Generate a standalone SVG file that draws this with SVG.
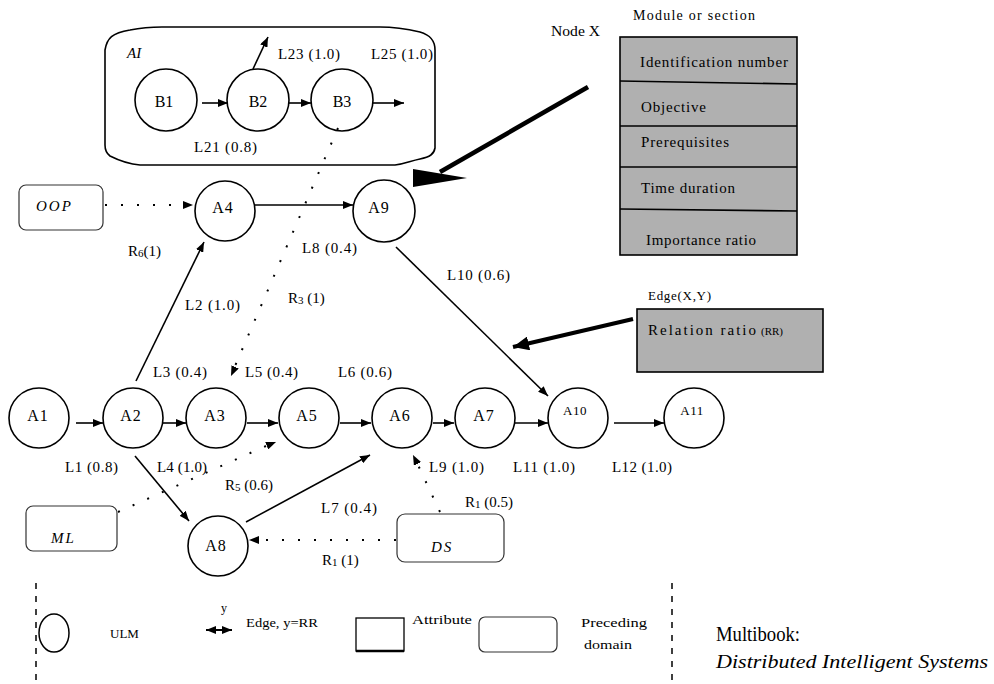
<svg xmlns="http://www.w3.org/2000/svg" width="994" height="684" viewBox="0 0 994 684">
<defs>
<style>
text{font-family:"Liberation Serif","Times New Roman",serif;fill:#000}
.lbl{font-size:15px}
.nt{font-size:16px;text-anchor:middle}
.ns{font-size:13px;text-anchor:middle}
.it{font-style:italic}
circle.n{fill:#fff;stroke:#000;stroke-width:1.6}
.ln{stroke:#000;stroke-width:1.6;fill:none}
.dot{stroke:#000;stroke-width:2;fill:none;stroke-dasharray:2 14}
.pd{fill:#fff;stroke:#333;stroke-width:1.2}
.gbox{fill:#b0b0b0;stroke:#000;stroke-width:1.6}
.sep{stroke:#000;stroke-width:1.6}
</style>
<marker id="ah" viewBox="0 0 10 8" refX="10" refY="4" markerWidth="10" markerHeight="8" markerUnits="userSpaceOnUse" orient="auto"><path d="M0,0 L10,4 L0,8 z" fill="#000"/></marker>
<marker id="ahb" viewBox="0 0 16 14" refX="16" refY="7" markerWidth="16" markerHeight="14" markerUnits="userSpaceOnUse" orient="auto"><path d="M0,0 L16,7 L0,14 z" fill="#000"/></marker>
<marker id="ahl" viewBox="0 0 10 8" refX="0" refY="4" markerWidth="10" markerHeight="8" markerUnits="userSpaceOnUse" orient="auto"><path d="M10,0 L0,4 L10,8 z" fill="#000"/></marker>
</defs>
<rect width="994" height="684" fill="#fff"/>

<!-- AI domain -->
<g id="AI">
<path class="ln" d="M105,50 C107,38 112,33 130,30 C140,28 150,27 162,27 L380,27 C395,27 407,29 420,32 C430,35 435,40 435,50 L435,148 C434,154 430,157 420,159 C410,161 405,164 395,165 L140,165 C128,164 118,160 110,156 C106,153 105,150 105,145 Z" stroke-width="1.8"/>
<text class="lbl it" x="127" y="58">AI</text>
</g>
<g id="B1"><circle class="n" cx="166" cy="100" r="31"/><text class="nt" x="164" y="107">B1</text></g>
<g id="B2"><circle class="n" cx="258" cy="100" r="31"/><text class="nt" x="258" y="107">B2</text></g>
<g id="B3"><circle class="n" cx="342" cy="100" r="31"/><text class="nt" x="342" y="107">B3</text></g>

<!-- ULM nodes -->
<g id="A1"><circle class="n" cx="39" cy="418" r="30"/><text class="nt" x="38" y="421" letter-spacing="1">A1</text></g>
<g id="A2"><circle class="n" cx="133" cy="418" r="30"/><text class="nt" x="131" y="421" letter-spacing="1">A2</text></g>
<g id="A3"><circle class="n" cx="216" cy="418" r="30"/><text class="nt" x="215" y="421" letter-spacing="1">A3</text></g>
<g id="A4"><circle class="n" cx="225" cy="211" r="30"/><text class="nt" x="223" y="213" letter-spacing="1">A4</text></g>
<g id="A5"><circle class="n" cx="309" cy="418" r="30"/><text class="nt" x="307" y="421" letter-spacing="1">A5</text></g>
<g id="A6"><circle class="n" cx="402" cy="418" r="30"/><text class="nt" x="400" y="421" letter-spacing="1">A6</text></g>
<g id="A7"><circle class="n" cx="485" cy="418" r="30"/><text class="nt" x="484" y="421" letter-spacing="1">A7</text></g>
<g id="A8"><circle class="n" cx="218" cy="546" r="30"/><text class="nt" x="216" y="551" letter-spacing="1">A8</text></g>
<g id="A9"><circle class="n" cx="384" cy="211" r="31"/><text class="nt" x="379" y="213" letter-spacing="1">A9</text></g>
<g id="A10"><circle class="n" cx="578" cy="418" r="30"/><text class="ns" x="575" y="415" letter-spacing="0.5">A10</text></g>
<g id="A11"><circle class="n" cx="694" cy="418" r="30"/><text class="ns" x="692" y="415" letter-spacing="0.5">A11</text></g>

<!-- Preceding domains -->
<g id="OOP"><rect class="pd" x="19" y="185" width="84" height="45" rx="7"/><text class="lbl it" x="36" y="211" letter-spacing="2">OOP</text></g>
<g id="ML"><rect class="pd" x="26" y="506" width="91" height="45" rx="7"/><text class="lbl it" x="51" y="543" letter-spacing="2">ML</text></g>
<g id="DS"><rect class="pd" x="397" y="514" width="107" height="48" rx="8"/><text class="lbl it" x="431" y="552" letter-spacing="2">DS</text></g>

<!-- Node X attribute box -->
<g id="NodeX">
<text x="551" y="36" font-size="15" textLength="49" lengthAdjust="spacingAndGlyphs">Node X</text>
<text x="633" y="20" font-size="14" textLength="122" lengthAdjust="spacing">Module or section</text>
<rect class="gbox" x="620" y="37" width="177" height="218"/>
<line class="sep" x1="620" y1="81" x2="797" y2="84"/>
<line class="sep" x1="620" y1="126" x2="797" y2="126"/>
<line class="sep" x1="620" y1="167" x2="797" y2="167"/>
<line class="sep" x1="620" y1="209" x2="797" y2="211"/>
<text class="lbl" x="640" y="67" textLength="148" lengthAdjust="spacing">Identification number</text>
<text class="lbl" x="641" y="112" textLength="65" lengthAdjust="spacing">Objective</text>
<text class="lbl" x="641" y="147" textLength="88" lengthAdjust="spacing">Prerequisites</text>
<text class="lbl" x="641" y="193" textLength="94" lengthAdjust="spacing">Time duration</text>
<text class="lbl" x="646" y="245" textLength="110" lengthAdjust="spacing">Importance ratio</text>
</g>

<!-- Edge attribute box -->
<g id="EdgeXY">
<text x="648" y="300" font-size="13" textLength="63" lengthAdjust="spacing">Edge(X,Y)</text>
<rect class="gbox" x="637" y="309" width="186" height="63" stroke-width="2"/>
<text class="lbl" x="648" y="335"><tspan textLength="108" lengthAdjust="spacing">Relation  ratio</tspan><tspan font-size="11" dx="3">(RR)</tspan></text>
</g>

<!-- Connectors -->
<g id="connectors">
<line class="ln" x1="202" y1="103" x2="228" y2="103" marker-end="url(#ah)"/>
<line class="ln" x1="288" y1="103" x2="311" y2="103" marker-end="url(#ah)"/>
<line class="ln" x1="373" y1="103" x2="404" y2="103" marker-end="url(#ah)"/>
<line class="ln" x1="253" y1="69" x2="268" y2="37" marker-end="url(#ah)"/>

<line class="ln" x1="76" y1="423" x2="103" y2="423" marker-end="url(#ah)"/>
<line class="ln" x1="163" y1="423" x2="186" y2="423" marker-end="url(#ah)"/>
<line class="ln" x1="247" y1="423" x2="278" y2="423" marker-end="url(#ah)"/>
<line class="ln" x1="340" y1="423" x2="371" y2="423" marker-end="url(#ah)"/>
<line class="ln" x1="433" y1="423" x2="454" y2="423" marker-end="url(#ah)"/>
<line class="ln" x1="514" y1="423" x2="548" y2="423" marker-end="url(#ah)"/>
<line class="ln" x1="614" y1="423" x2="664" y2="423" marker-end="url(#ah)"/>

<line class="ln" x1="255" y1="205" x2="353" y2="205" marker-end="url(#ah)"/>
<line class="ln" x1="136" y1="381" x2="204" y2="242" marker-end="url(#ah)"/>
<line class="ln" x1="135" y1="456" x2="189" y2="521" marker-end="url(#ah)"/>
<line class="ln" x1="246" y1="522" x2="370" y2="455" marker-end="url(#ah)"/>
<line class="ln" x1="396" y1="247" x2="548" y2="396" marker-end="url(#ah)"/>

<line class="dot" x1="105" y1="205" x2="183" y2="205"/>
<path d="M183,201 L193,205 L183,209 z"/>
<line class="dot" x1="338" y1="128" x2="235" y2="366"/>
<line class="dot" x1="118" y1="512" x2="266" y2="446"/>
<line class="dot" x1="396" y1="540" x2="259" y2="540"/>
<line class="dot" x1="440" y1="512" x2="418" y2="465"/>
<line x1="236" y1="365" x2="231" y2="376" stroke="#000" stroke-width="0.1" marker-end="url(#ah)"/>
<line x1="266" y1="446" x2="276" y2="442" stroke="#000" stroke-width="0.1" marker-end="url(#ah)"/>
<line x1="259" y1="540" x2="249" y2="540" stroke="#000" stroke-width="0.1" marker-end="url(#ah)"/>
<line x1="418" y1="465" x2="413" y2="455" stroke="#000" stroke-width="0.1" marker-end="url(#ah)"/>

<line x1="588" y1="87" x2="440" y2="172" stroke="#000" stroke-width="4.5"/>
<polygon points="413,169 413,187 467,178" fill="#000"/>
<line x1="633" y1="319" x2="513" y2="347" stroke="#000" stroke-width="4" marker-end="url(#ahb)"/>
</g>

<!-- Edge labels -->
<g id="labels" class="lbl">
<text x="278" y="59" textLength="62" lengthAdjust="spacing">L23 (1.0)</text>
<text x="371" y="59" textLength="62" lengthAdjust="spacing">L25 (1.0)</text>
<text x="194" y="152" textLength="63" lengthAdjust="spacing">L21 (0.8)</text>
<text x="128" y="256">R<tspan font-size="11" dy="1">6</tspan><tspan dy="-1">(1)</tspan></text>
<text x="302" y="253" textLength="55" lengthAdjust="spacing">L8 (0.4)</text>
<text x="185" y="310" textLength="55" lengthAdjust="spacing">L2 (1.0)</text>
<text x="288" y="303">R<tspan font-size="11" dy="1">3</tspan><tspan dy="-1"> (1)</tspan></text>
<text x="447" y="280" textLength="63" lengthAdjust="spacing">L10 (0.6)</text>
<text x="153" y="377" textLength="54" lengthAdjust="spacing">L3 (0.4)</text>
<text x="245" y="377" textLength="53" lengthAdjust="spacing">L5 (0.4)</text>
<text x="338" y="377" textLength="54" lengthAdjust="spacing">L6 (0.6)</text>
<text x="65" y="472" textLength="53" lengthAdjust="spacing">L1 (0.8)</text>
<text x="157" y="472" textLength="50" lengthAdjust="spacing">L4 (1.0)</text>
<text x="225" y="490">R<tspan font-size="11" dy="1">5</tspan><tspan dy="-1"> (0.6)</tspan></text>
<text x="321" y="513" textLength="56" lengthAdjust="spacing">L7 (0.4)</text>
<text x="322" y="565">R<tspan font-size="11" dy="1">1</tspan><tspan dy="-1"> (1)</tspan></text>
<text x="429" y="472" textLength="55" lengthAdjust="spacing">L9 (1.0)</text>
<text x="465" y="507">R<tspan font-size="11" dy="1">1</tspan><tspan dy="-1"> (0.5)</tspan></text>
<text x="513" y="472" textLength="62" lengthAdjust="spacing">L11 (1.0)</text>
<text x="612" y="472" textLength="60" lengthAdjust="spacing">L12 (1.0)</text>
</g>

<!-- Legend -->
<g id="legend">
<line x1="36" y1="583" x2="36" y2="684" stroke="#000" stroke-width="1.5" stroke-dasharray="6 7"/>
<line x1="672" y1="583" x2="672" y2="684" stroke="#000" stroke-width="1.5" stroke-dasharray="6 7"/>
<ellipse cx="54" cy="633" rx="15" ry="19" fill="#fff" stroke="#000" stroke-width="1.5"/>
<text x="110" y="638" font-size="13">ULM</text>
<line x1="206" y1="630" x2="232" y2="630" stroke="#000" stroke-width="2" marker-start="url(#ahl)" marker-end="url(#ah)"/>
<text x="221" y="612" font-size="12">y</text>
<text x="246" y="627" font-size="13" textLength="72" lengthAdjust="spacingAndGlyphs">Edge, y=RR</text>
<rect x="356" y="618" width="48" height="33" fill="#fff" stroke="#000" stroke-width="1.3"/>
<line x1="356" y1="651" x2="404" y2="651" stroke="#000" stroke-width="2.5"/>
<text x="412" y="624" font-size="13" textLength="60" lengthAdjust="spacingAndGlyphs">Attribute</text>
<rect class="pd" x="479" y="617" width="78" height="35" rx="6"/>
<text x="581" y="627" font-size="13" textLength="66" lengthAdjust="spacingAndGlyphs">Preceding</text>
<text x="584" y="649" font-size="13" textLength="48" lengthAdjust="spacingAndGlyphs">domain</text>
<text x="716" y="641" font-size="21" textLength="84" lengthAdjust="spacingAndGlyphs">Multibook:</text>
<text x="716" y="668" font-size="18" font-style="italic" textLength="272" lengthAdjust="spacingAndGlyphs">Distributed Intelligent Systems</text>
</g>
</svg>
